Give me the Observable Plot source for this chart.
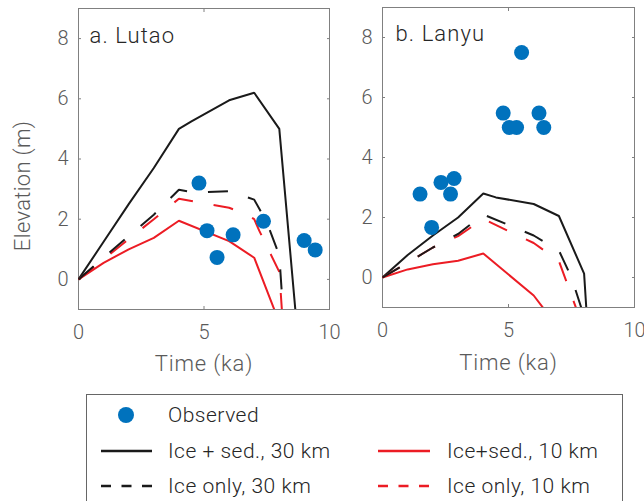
<!DOCTYPE html>
<html><head><meta charset="utf-8">
<script src="https://cdn.jsdelivr.net/npm/d3@7"></script>
<script src="https://cdn.jsdelivr.net/npm/@observablehq/plot@0.6"></script>
<style>
body{margin:0;background:#fff}
#wrap{position:relative;width:644px;height:501px;overflow:hidden;background:#fff}
.panel{position:absolute;top:0}
.panel svg{max-width:none !important}
#legend{position:absolute;left:0;top:0}
</style></head><body>
<div id="wrap">
  <div id="pa" class="panel" style="left:0px;width:343px"></div>
  <div id="pb" class="panel" style="left:322px;width:326px"></div>
  <svg id="legend" width="644" height="501"></svg>
</div>
<script>
// ---------- data ----------
const xTicks = [0, 5, 10];
const yTicks = [0, 2, 4, 6, 8];

// a. Lutao
const lutaoObsT = [4.8, 5.12, 5.52, 6.16, 7.37, 8.99, 9.43];
const lutaoObsV = [3.2, 1.62, 0.73, 1.48, 1.93, 1.29, 0.98];
const lutaoIceSed30T = [0, 1, 2, 3, 4, 4.5, 6, 7, 8, 9];
const lutaoIceSed30V = [0, 1.25, 2.5, 3.7, 5.0, 5.25, 5.95, 6.2, 5.0, -4.4];
const lutaoIceOnly30T = [0, 1, 2, 3, 4, 4.5, 5, 6, 7, 7.5, 8, 8.2];
const lutaoIceOnly30V = [0, 0.72, 1.44, 2.15, 2.98, 2.9, 2.9, 2.93, 2.65, 1.9, 0.8, -1.7];
const lutaoIceSed10T = [0, 1, 2, 3, 4, 6, 7, 8];
const lutaoIceSed10V = [0, 0.55, 1.0, 1.38, 1.95, 1.27, 0.72, -1.43];
const lutaoIceOnly10T = [0, 1, 2, 3, 4, 5, 6, 6.7, 7, 7.2, 8, 8.2];
const lutaoIceOnly10V = [0, 0.67, 1.34, 2.0, 2.68, 2.53, 2.38, 2.15, 2.0, 1.62, 0.25, -2.2];

// b. Lanyu
const lanyuObsT = [1.49, 1.95, 2.32, 2.7, 2.84, 4.79, 5.03, 5.32, 5.52, 6.21, 6.4];
const lanyuObsV = [2.78, 1.67, 3.17, 2.78, 3.3, 5.48, 5.0, 5.0, 7.5, 5.48, 5.0];
const lanyuIceSed30T = [0, 1, 2, 3, 4, 4.5, 6, 7, 8, 8.2];
const lanyuIceSed30V = [0, 0.75, 1.4, 2.0, 2.8, 2.67, 2.45, 2.05, 0.13, -2.5];
const lanyuIceOnly30T = [0, 1, 2, 3, 4, 6, 7, 7.5, 8];
const lanyuIceOnly30V = [0, 0.5, 1.0, 1.45, 2.1, 1.4, 0.9, 0.0, -1.3];
const lanyuIceSed10T = [0, 1, 2, 3, 4, 6, 7];
const lanyuIceSed10V = [0, 0.27, 0.44, 0.56, 0.8, -0.6, -1.7];
const lanyuIceOnly10T = [0, 1, 2, 3, 4, 5, 6, 7, 8];
const lanyuIceOnly10V = [0, 0.5, 1.0, 1.38, 1.95, 1.55, 1.15, 0.55, -1.75];

const legendLabels = ["Observed", "Ice + sed., 30 km", "Ice only, 30 km", "Ice+sed., 10 km", "Ice only, 10 km"];

// ---------- helpers ----------
const FONT = "Roboto, 'Liberation Sans', Arial, sans-serif";
const BLUE = "#0072BD", RED = "#ec1c24", BLACK = "#1a1a1a";
const AXIS = "#808080", TICKTXT = "#5a5a5a", TITLE = "#262626";
const DASH = "20,21";

const zip = (T, V) => T.map((t, i) => ({t, v: V[i]}));

function panel({title, obsT, obsV, s30T, s30V, o30T, o30V, s10T, s10V, o10T, o10V,
                ml, mr, mt, fw, fh, ylabel, titleDx, titleDy, xlabDy}) {
  const line = (T, V, stroke, dash) => Plot.line(zip(T, V), {
    x: "t", y: "v", stroke, strokeWidth: 2, clip: true,
    strokeDasharray: dash, strokeLinejoin: "miter", strokeLinecap: "butt"
  });
  const marks = [
    Plot.frame({stroke: AXIS, strokeWidth: 1}),
    Plot.axisX({ticks: xTicks, tickSize: -3, tickPadding: 18, stroke: AXIS, fill: TICKTXT, label: null, fontSize: 20}),
    Plot.axisX({anchor: "top", ticks: xTicks, tickSize: -3, tickFormat: () => "", stroke: AXIS, label: null}),
    Plot.axisY({ticks: yTicks, tickSize: -3, tickPadding: 13, stroke: AXIS, fill: TICKTXT, label: null, fontSize: 20}),
    Plot.axisY({anchor: "right", ticks: yTicks, tickSize: -3, tickFormat: () => "", stroke: AXIS, label: null}),
    line(s30T, s30V, BLACK, null),
    line(s10T, s10V, RED, null),
    line(o10T, o10V, RED, DASH),
    Plot.dot(zip(obsT, obsV), {x: "t", y: "v", r: 7.5, fill: BLUE, stroke: "none"}),
    line(o30T, o30V, BLACK, DASH),
    Plot.text([title], {frameAnchor: "top-left", text: d => d, textAnchor: "start", lineAnchor: "middle",
      dx: titleDx, dy: titleDy, fontSize: 22, fill: TITLE}),
    Plot.text(["Time (ka)"], {frameAnchor: "bottom", text: d => d, textAnchor: "middle", lineAnchor: "middle",
      dy: xlabDy, fontSize: 22, fill: TICKTXT})
  ];
  if (ylabel) marks.push(Plot.text([ylabel], {frameAnchor: "left", text: d => d, rotate: -90,
      textAnchor: "middle", lineAnchor: "middle", dx: -56, dy: 27, fontSize: 22, fill: TICKTXT}));
  const svg = Plot.plot({
    width: ml + fw + mr, height: mt + fh + 72,
    marginLeft: ml, marginRight: mr, marginTop: mt, marginBottom: 72,
    x: {domain: [0, 10]}, y: {domain: [-1, 9]},
    style: {fontFamily: FONT, fontSize: "20px", fontWeight: 300, background: "transparent",
            overflow: "visible", maxWidth: "none"},
    marks
  });
  // wider tracking to mimic the original Helvetica Neue Light
  d3.select(svg).selectAll("text").each(function () {
    const s = this.textContent;
    if (s === title) this.style.letterSpacing = "1.1px";
    else if (s === "Time (ka)") this.style.letterSpacing = "0.8px";
    else if (s === ylabel) this.style.letterSpacing = "0.3px";
  });
  return svg;
}

document.getElementById("pa").appendChild(panel({
  title: "a. Lutao", obsT: lutaoObsT, obsV: lutaoObsV,
  s30T: lutaoIceSed30T, s30V: lutaoIceSed30V, o30T: lutaoIceOnly30T, o30V: lutaoIceOnly30V,
  s10T: lutaoIceSed10T, s10V: lutaoIceSed10V, o10T: lutaoIceOnly10T, o10V: lutaoIceOnly10V,
  ml: 78, mr: 14, mt: 8, fw: 251, fh: 301, ylabel: "Elevation (m)", titleDx: 11, titleDy: 27, xlabDy: 54
}));
document.getElementById("pb").appendChild(panel({
  title: "b. Lanyu", obsT: lanyuObsT, obsV: lanyuObsV,
  s30T: lanyuIceSed30T, s30V: lanyuIceSed30V, o30T: lanyuIceOnly30T, o30V: lanyuIceOnly30V,
  s10T: lanyuIceSed10T, s10V: lanyuIceSed10V, o10T: lanyuIceOnly10T, o10V: lanyuIceOnly10V,
  ml: 60, mr: 14, mt: 7, fw: 252, fh: 300, ylabel: null, titleDx: 13, titleDy: 26, xlabDy: 55
}));

// ---------- legend ----------
const NS = "http://www.w3.org/2000/svg";
const lg = document.getElementById("legend");
function el(name, attrs, text) {
  const e = document.createElementNS(NS, name);
  for (const k in attrs) e.setAttribute(k, attrs[k]);
  if (text != null) e.textContent = text;
  lg.appendChild(e); return e;
}
el("rect", {x: 86.5, y: 394.5, width: 536, height: 200, fill: "#fff", stroke: "#666", "stroke-width": 1});
el("circle", {cx: 126, cy: 415, r: 8, fill: BLUE});
el("line", {x1: 101, x2: 152, y1: 451, y2: 451, stroke: BLACK, "stroke-width": 2.5});
el("line", {x1: 101, x2: 152, y1: 486, y2: 486, stroke: BLACK, "stroke-width": 2.5, "stroke-dasharray": "10,10.5"});
el("line", {x1: 378, x2: 430, y1: 451, y2: 451, stroke: RED, "stroke-width": 2.5});
el("line", {x1: 378, x2: 430, y1: 486, y2: 486, stroke: RED, "stroke-width": 2.5, "stroke-dasharray": "10,10.5"});
const tpos = [[168, 415], [168, 451], [168, 486], [447, 451], [447, 486]];
legendLabels.forEach((s, i) => el("text", {x: tpos[i][0], y: tpos[i][1], dy: "0.35em", fill: TITLE,
  "font-family": FONT, "font-size": 21, "font-weight": 300, "letter-spacing": "0.5px"}, s));
</script>
</body></html>
